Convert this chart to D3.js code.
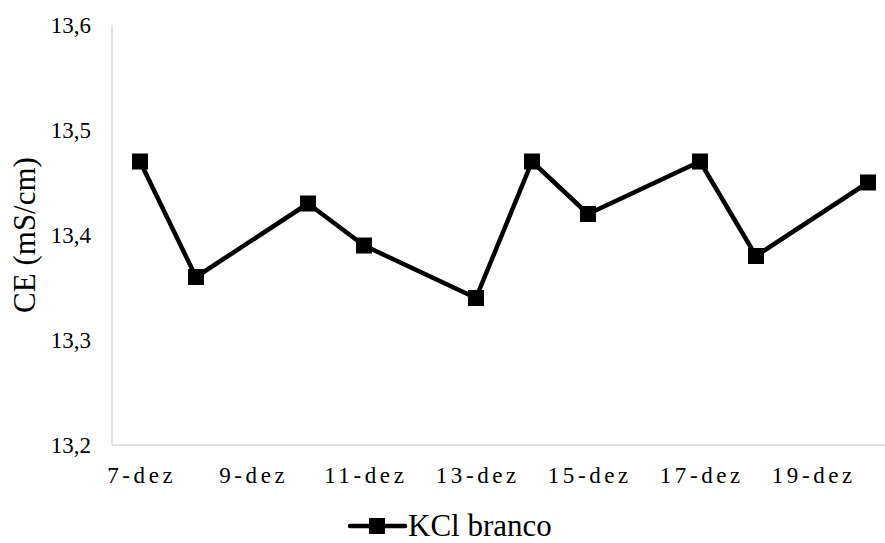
<!DOCTYPE html>
<html>
<head>
<meta charset="utf-8">
<script src="https://cdn.jsdelivr.net/npm/d3@7"></script>
<style>
  html, body { margin: 0; padding: 0; background: #fff; }
  svg { display: block; }
</style>
</head>
<body>
<svg id="chart" width="885" height="543"></svg>
<script>
// Measurement days (December) and conductivity readings
const days = [7, 8, 10, 11, 13, 14, 15, 17, 18, 20];
const values = [13.47, 13.36, 13.43, 13.39, 13.34, 13.47, 13.42, 13.47, 13.38, 13.45];
const tickDays = [7, 9, 11, 13, 15, 17, 19];
const yTicks = [13.2, 13.3, 13.4, 13.5, 13.6];
const seriesName = "KCl branco";
const yTitle = "CE (mS/cm)";

(function () {
  const svg = d3.select("#chart")
    .style("font-family", "'Liberation Serif'");
  const plotLeft = 112, plotTop = 25, plotBottom = 445;

  // One day per 56px band, points at band centres
  const x = d3.scaleLinear().domain([6.5, 20.5]).range([plotLeft, plotLeft + 14 * 56]);
  const y = d3.scaleLinear().domain([13.2, 13.6]).range([plotBottom, plotTop]);

  const axisColor = "#d9d9d9";

  // Axis lines
  svg.append("line")
    .attr("x1", plotLeft).attr("x2", plotLeft)
    .attr("y1", y(13.6)).attr("y2", y(13.2))
    .attr("stroke", axisColor).attr("stroke-width", 1.5);
  svg.append("line")
    .attr("x1", plotLeft).attr("x2", 885)
    .attr("y1", y(13.2)).attr("y2", y(13.2))
    .attr("stroke", axisColor).attr("stroke-width", 1.5);

  // Y tick labels
  const fmt = v => d3.format(".1f")(v).replace(".", ",");
  svg.append("g").selectAll("text").data(yTicks).join("text")
    .attr("x", plotLeft - 21)
    .attr("y", d => y(d))
    .attr("dy", "0.35em")
    .attr("text-anchor", "end")
    .style("font-family", "'Liberation Serif'")
    .style("font-size", "23px")
    .attr("fill", "#000")
    .text(fmt);

  // X tick labels
  const ls = 3.6;
  svg.append("g").selectAll("text").data(tickDays).join("text")
    .attr("x", d => x(d) + ls / 2)
    .attr("y", 483)
    .attr("text-anchor", "middle")
    .style("font-family", "'Liberation Serif'")
    .style("font-size", "23px")
    .style("letter-spacing", ls + "px")
    .attr("fill", "#000")
    .text(d => `${d}-dez`);

  // Y axis title
  svg.append("text")
    .attr("transform", `translate(35,${(plotTop + plotBottom) / 2}) rotate(-90)`)
    .attr("text-anchor", "middle")
    .style("font-family", "'Liberation Serif'")
    .style("font-size", "31px")
    .attr("fill", "#000")
    .text(yTitle);

  // Series line
  const data = days.map((d, i) => ({ day: d, value: values[i] }));
  svg.append("path")
    .datum(data)
    .attr("fill", "none")
    .attr("stroke", "#000")
    .attr("stroke-width", 4.5)
    .attr("stroke-linejoin", "round")
    .attr("d", d3.line().x(d => x(d.day)).y(d => y(d.value)));

  // Square markers
  const m = 16;
  svg.append("g").selectAll("rect").data(data).join("rect")
    .attr("x", d => x(d.day) - m / 2)
    .attr("y", d => y(d.value) - m / 2)
    .attr("width", m).attr("height", m)
    .attr("fill", "#000");

  // Legend
  const lg = svg.append("g").attr("transform", "translate(377,526)");
  lg.append("line").attr("x1", -27).attr("x2", 28).attr("y1", 0).attr("y2", 0)
    .attr("stroke", "#000").attr("stroke-width", 4.5).attr("stroke-linecap", "round");
  lg.append("rect").attr("x", -m / 2).attr("y", -m / 2).attr("width", m).attr("height", m).attr("fill", "#000");
  lg.append("text").attr("x", 31).attr("y", 10)
    .style("font-family", "'Liberation Serif'")
    .style("font-size", "31px")
    .attr("fill", "#000")
    .text(seriesName);
})();
</script>
</body>
</html>
